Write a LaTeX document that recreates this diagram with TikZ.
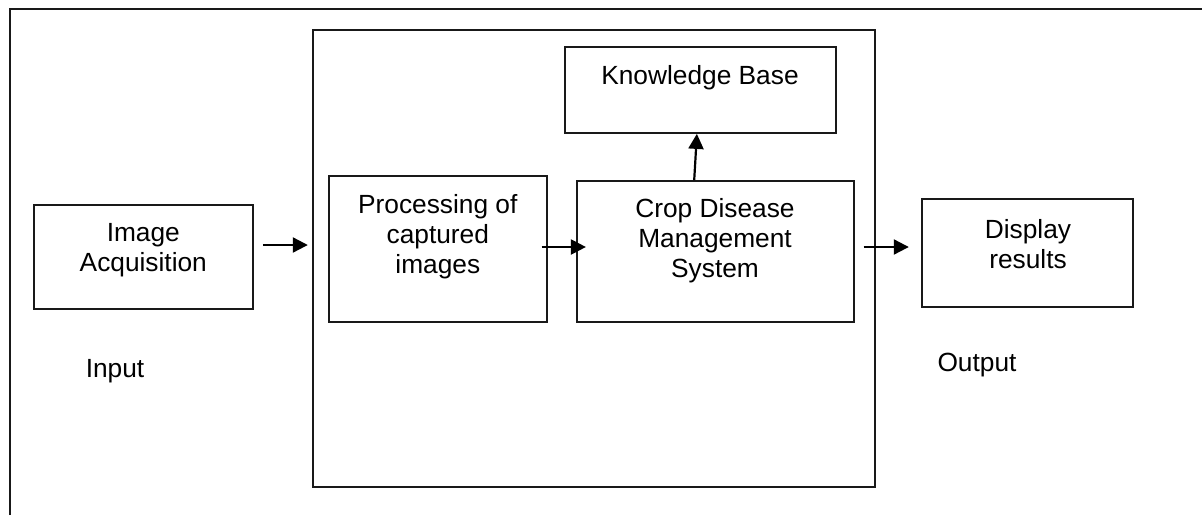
\documentclass[tikz,border=0pt]{standalone}
\usepackage{fontspec}
\setmainfont{Liberation Sans}
\usetikzlibrary{arrows.meta}
\begin{document}
\begin{tikzpicture}[x=1pt,y=-1pt,
  box/.style={draw=black!90, line width=1.8pt, rectangle, inner sep=0pt},
  txt/.style={align=center, inner sep=0pt, font=\fontsize{26.3}{30}\selectfont},
  arr/.style={line width=2.2pt, -{Triangle[length=15pt,width=15pt]}}]
\useasboundingbox (0,0) rectangle (1202,515);
% outer frame (only top and left edges visible)
\draw[line width=1.8pt, black!90] (10,515) -- (10,9.3) -- (1203,9.3);
% boxes
\node[box, minimum width=219pt, minimum height=104pt] (ia) at (143.5,257) {};
\node[box, minimum width=562pt, minimum height=456.7pt] (cont) at (593.7,258.3) {};
\node[box, minimum width=218pt, minimum height=146pt] (proc) at (437.8,249) {};
\node[box, minimum width=271pt, minimum height=86pt] (kb) at (700.3,90) {};
\node[box, minimum width=277pt, minimum height=141pt] (cdms) at (715.3,251.5) {};
\node[box, minimum width=211.6pt, minimum height=107.7pt] (disp) at (1027.5,253) {};
% texts
\node[txt] (tia) at (143.3,250.5) {Image\\Acquisition};
\node[txt] (tproc) at (437.8,237) {Processing of\\captured\\images};
\node[txt] (tkb) at (700,78) {Knowledge Base};
\node[txt] (tcdms) at (715,241) {Crop Disease\\Management\\System};
\node[txt] (tdisp) at (1028,244.5) {Display\\results};
\node[txt] (tin) at (115,371) {Input};
\node[txt] (tout) at (977,365) {Output};
% connectors
\draw[arr, shorten <=9pt, shorten >=4pt] (ia.east |- 0,245) -- (cont.west |- 0,245);
\draw[arr, shorten <=-6pt, shorten >=-10pt] (proc.east |- 0,247) -- (cdms.west |- 0,247);
\draw[arr] (cdms.north -| 694.2,0) -- (kb.south -| 696.9,0);
\draw[arr, shorten <=9pt, shorten >=12pt] (cdms.east |- 0,247) -- (disp.west |- 0,247);
\end{tikzpicture}
\end{document}
